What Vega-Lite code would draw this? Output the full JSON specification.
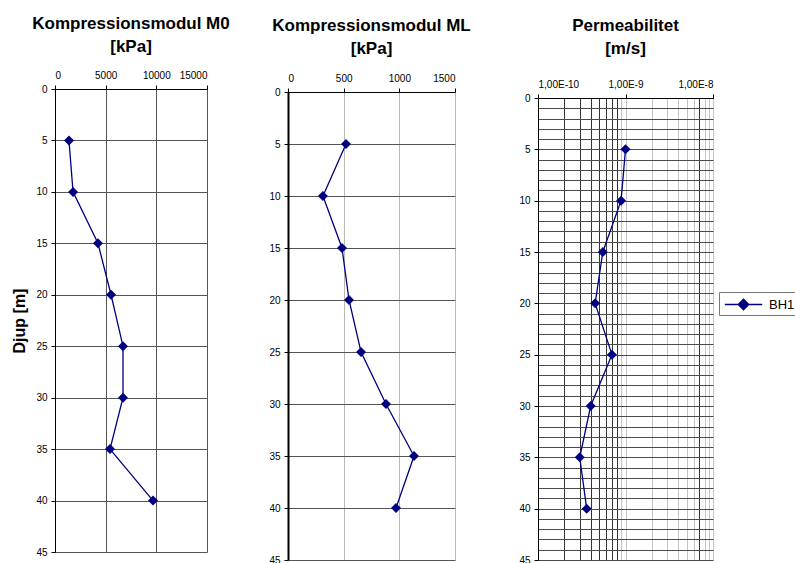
{
  "$schema": "https://vega.github.io/schema/vega-lite/v6.json",
  "padding": {"left": 11, "top": 15, "right": 0, "bottom": 0},
  "background": "white",
  "datasets": {
    "m0": [
      {"djup": 5, "varde": 1380},
      {"djup": 10, "varde": 1780},
      {"djup": 15, "varde": 4240},
      {"djup": 20, "varde": 5530},
      {"djup": 25, "varde": 6710},
      {"djup": 30, "varde": 6710},
      {"djup": 35, "varde": 5430},
      {"djup": 40, "varde": 9670}
    ],
    "ml": [
      {"djup": 5, "varde": 521},
      {"djup": 10, "varde": 314},
      {"djup": 15, "varde": 485},
      {"djup": 20, "varde": 548},
      {"djup": 25, "varde": 656},
      {"djup": 30, "varde": 880},
      {"djup": 35, "varde": 1132},
      {"djup": 40, "varde": 970}
    ],
    "perm": [
      {"djup": 5, "varde": 1.0e-9},
      {"djup": 10, "varde": 8.9e-10},
      {"djup": 15, "varde": 5.5e-10},
      {"djup": 20, "varde": 4.5e-10},
      {"djup": 25, "varde": 7.0e-10},
      {"djup": 30, "varde": 4.0e-10},
      {"djup": 35, "varde": 3.0e-10},
      {"djup": 40, "varde": 3.6e-10}
    ]
  },
  "spacing": 38,
  "hconcat": [
    {
      "width": 152,
      "height": 463,
      "data": {"name": "m0"},
      "title": {"text": ["Kompressionsmodul M0", "[kPa]"], "offset": 14},
      "mark": {"type": "line", "strokeWidth": 1.3, "point": {"shape": "diamond", "size": 100, "filled": true, "opacity": 1}},
      "encoding": {
        "x": {
          "field": "varde", "type": "quantitative",
          "scale": {"domain": [0, 15000], "nice": false},
          "axis": {"orient": "top", "title": null, "format": "d", "values": [0, 5000, 10000, 15000], "gridColor": "#555"}
        },
        "y": {
          "field": "djup", "type": "quantitative",
          "scale": {"domain": [0, 45], "range": [0, 463], "nice": false},
          "axis": {"title": "Djup [m]", "titlePadding": 8, "values": [0, 5, 10, 15, 20, 25, 30, 35, 40, 45], "gridColor": "#555"}
        },
        "order": {"field": "djup"},
        "color": {"datum": "BH1", "type": "nominal", "scale": {"range": ["#000080"]}}
      }
    },
    {
      "width": 167,
      "height": 471,
      "data": {"name": "ml"},
      "title": {"text": ["Kompressionsmodul ML", "[kPa]"], "offset": 15},
      "mark": {"type": "line", "strokeWidth": 1.3, "point": {"shape": "diamond", "size": 100, "filled": true, "opacity": 1}},
      "encoding": {
        "x": {
          "field": "varde", "type": "quantitative",
          "scale": {"domain": [0, 1500], "nice": false},
          "axis": {"orient": "top", "title": null, "format": "d", "offset": -3, "values": [0, 500, 1000, 1500], "gridColor": "#b8b8b8"}
        },
        "y": {
          "field": "djup", "type": "quantitative",
          "scale": {"domain": [0, 45], "range": [3, 471], "nice": false},
          "axis": {"title": null, "values": [0, 5, 10, 15, 20, 25, 30, 35, 40, 45], "gridColor": "#555", "domainWidth": 2}
        },
        "order": {"field": "djup"},
        "color": {"datum": "BH1", "type": "nominal", "scale": {"range": ["#000080"]}}
      }
    },
    {
      "width": 175,
      "height": 471,
      "data": {"name": "perm"},
      "title": {"text": ["Permeabilitet", "[m/s]"], "offset": 21},
      "mark": {"type": "line", "strokeWidth": 1.3, "point": {"shape": "diamond", "size": 100, "filled": true, "opacity": 1}},
      "encoding": {
        "x": {
          "field": "varde", "type": "quantitative",
          "scale": {"type": "log", "domain": [1e-10, 1e-8], "nice": false},
          "axis": {
            "orient": "top", "title": null, "offset": -9,
            "values": [1e-10, 2e-10, 3e-10, 4e-10, 5e-10, 6e-10, 7e-10, 8e-10, 9e-10, 1e-9, 2e-9, 3e-9, 4e-9, 5e-9, 6e-9, 7e-9, 8e-9, 9e-9, 1e-8],
            "labelExpr": "abs(log(datum.value) / LN10 - round(log(datum.value) / LN10)) < 0.001 ? upper(replace(format(datum.value, '.2e'), '.', ',')) : ''",
            "tickOpacity": {"condition": {"test": "abs(log(datum.value) / LN10 - round(log(datum.value) / LN10)) < 0.001", "value": 1}, "value": 0},
            "gridColor": {"condition": {"test": "datum.value < 8.5e-10 || (datum.value > 6.5e-9 && datum.value < 7.5e-9)", "value": "#333"}, "value": "#c4c4c4"}
          }
        },
        "y": {
          "field": "djup", "type": "quantitative",
          "scale": {"domain": [0, 45], "range": [9, 471], "nice": false},
          "axis": {
            "title": null, "minExtent": 29,
            "values": [0, 1, 2, 3, 4, 5, 6, 7, 8, 9, 10, 11, 12, 13, 14, 15, 16, 17, 18, 19, 20, 21, 22, 23, 24, 25, 26, 27, 28, 29, 30, 31, 32, 33, 34, 35, 36, 37, 38, 39, 40, 41, 42, 43, 44, 45],
            "labelExpr": "datum.value % 5 == 0 ? datum.label : ''",
            "tickOpacity": {"condition": {"test": "datum.value % 5 == 0", "value": 1}, "value": 0},
            "gridColor": "#4a4a4a"
          }
        },
        "order": {"field": "djup"},
        "color": {
          "datum": "BH1", "type": "nominal",
          "scale": {"range": ["#000080"]},
          "legend": {
            "title": null,
            "orient": "none",
            "legendX": 664,
            "legendY": 203,
            "symbolType": "M-2,0L2,0M0,-0.55L0.55,0L0,0.55L-0.55,0Z",
            "symbolSize": 350,
            "symbolOffset": 12,
            "symbolStrokeWidth": 1.5,
            "symbolFillColor": "#000080",
            "symbolStrokeColor": "#000080",
            "labelOffset": 15,
            "labelFont": "Liberation Sans",
            "labelFontSize": 13,
            "labelColor": "#000",
            "strokeColor": "#777",
            "fillColor": "white",
            "padding": 2
          }
        }
      }
    }
  ],
  "config": {
    "font": "Liberation Sans",
    "view": {"stroke": null},
    "title": {"fontSize": 17, "fontWeight": "bold", "color": "#000", "anchor": "middle", "lineHeight": 23},
    "axis": {
      "labelFont": "Liberation Sans",
      "labelFontSize": 10,
      "labelColor": "#000",
      "domainColor": "#000",
      "tickColor": "#000",
      "tickSize": 4,
      "labelPadding": 6,
      "grid": true,
      "gridOpacity": 1,
      "gridWidth": 1,
      "titleFont": "Liberation Sans",
      "titleFontSize": 16,
      "titleFontWeight": "bold",
      "titleColor": "#000"
    },
    "axisX": {"labelPadding": 5, "labelAngle": 0},
    "axisY": {"labelPadding": 4}
  }
}
